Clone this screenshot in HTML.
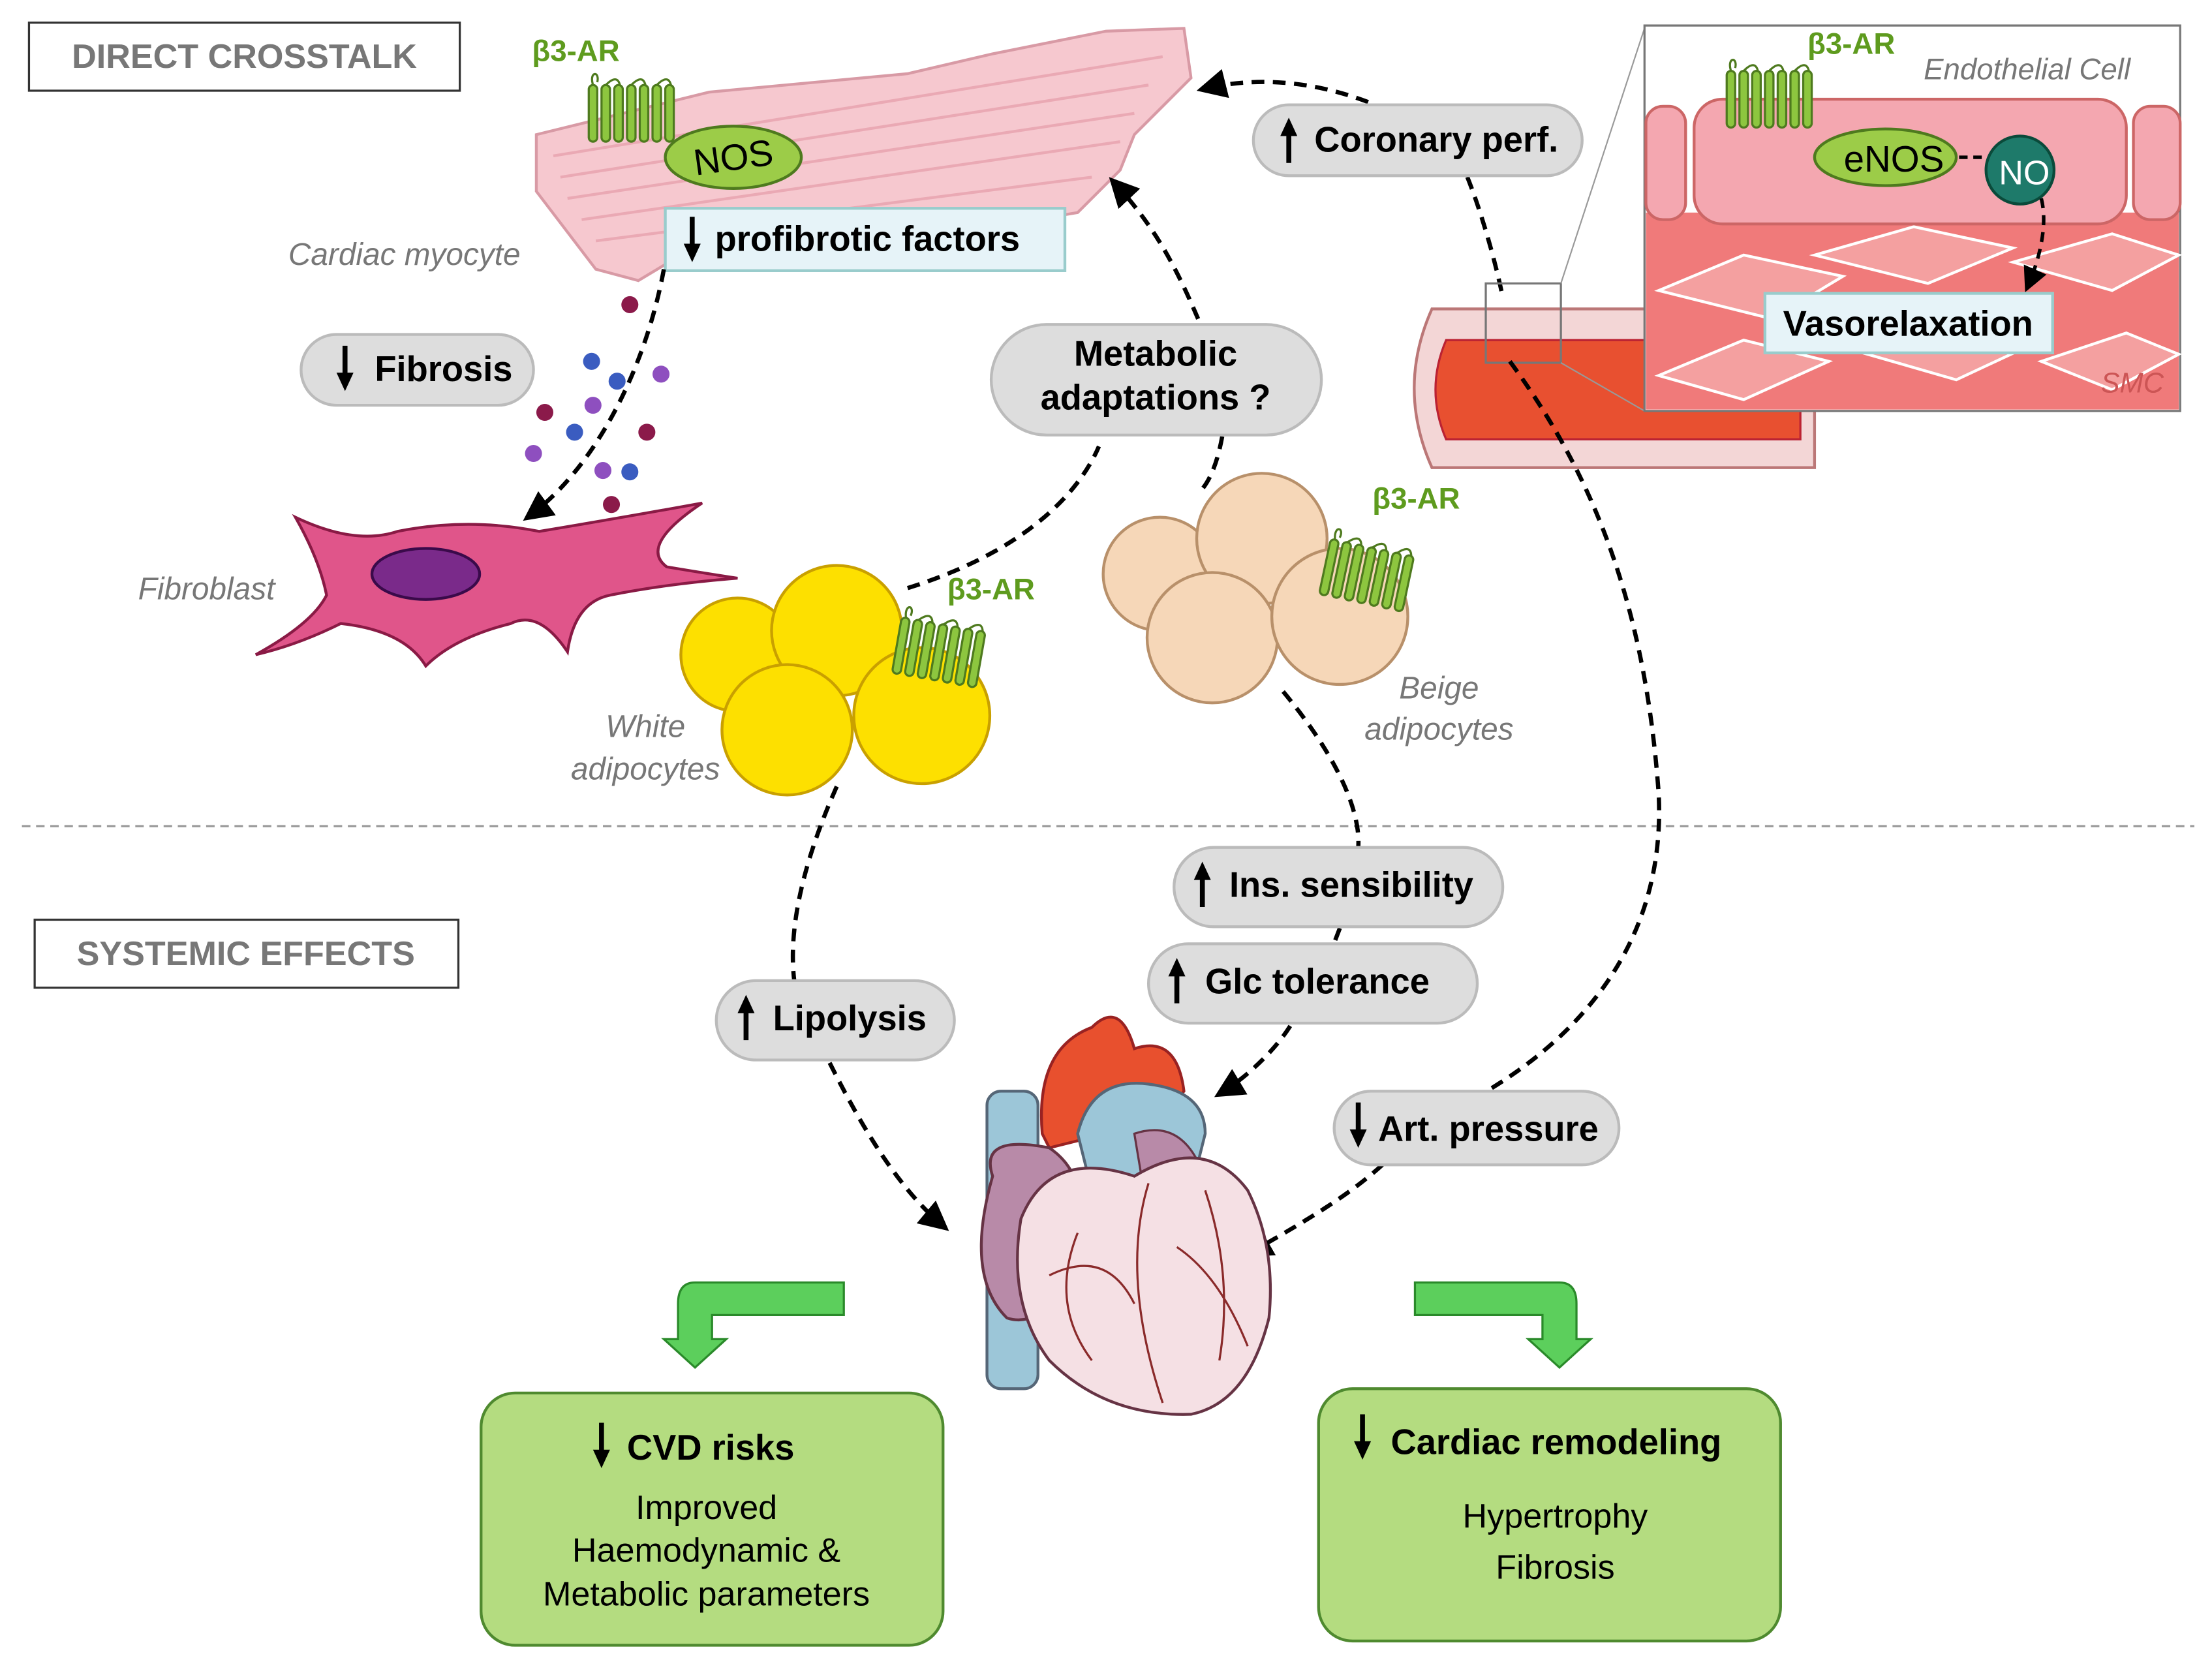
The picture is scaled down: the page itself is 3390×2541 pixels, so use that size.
<!DOCTYPE html>
<html><head><meta charset="utf-8"><style>
html,body{margin:0;padding:0;background:#fff}
svg{display:block}
text{font-family:"Liberation Sans",sans-serif}
</style></head><body>
<svg width="3390" height="2541" viewBox="0 0 1560 1170" xmlns="http://www.w3.org/2000/svg">
<defs>
<marker id="ah" viewBox="0 0 10 10" refX="8" refY="5" markerWidth="7" markerHeight="7" orient="auto"><path d="M0,0 L10,5 L0,10 z" fill="#000"/></marker>
<g id="dn"><path d="M0,0 L0,22" stroke="#000" stroke-width="3.5"/><path d="M-6,19 L6,19 L0,32 z" fill="#000"/></g>
<g id="up"><path d="M0,10 L0,32" stroke="#000" stroke-width="3.5"/><path d="M-6,13 L6,13 L0,0 z" fill="#000"/></g>
<g id="rec" fill="none" stroke="#4e7a1e" stroke-width="1.5">
<rect x="0" y="10" width="6" height="40" rx="3" fill="#8dc63f"/><rect x="9" y="10" width="6" height="40" rx="3" fill="#8dc63f"/><rect x="18" y="10" width="6" height="40" rx="3" fill="#8dc63f"/><rect x="27" y="10" width="6" height="40" rx="3" fill="#8dc63f"/><rect x="36" y="10" width="6" height="40" rx="3" fill="#8dc63f"/><rect x="45" y="10" width="6" height="40" rx="3" fill="#8dc63f"/><rect x="54" y="10" width="6" height="40" rx="3" fill="#8dc63f"/>
<path d="M3,10 C0,0 8,0 6,8 M12,10 Q20,2 22,10 M30,10 Q38,2 40,10 M48,10 Q56,2 58,10"/>
</g>
</defs>
<rect x="20" y="16" width="304" height="48" fill="#fff" stroke="#333" stroke-width="1.5"/>
<text x="172" y="48" font-size="24" font-weight="bold" fill="#777" text-anchor="middle">DIRECT CROSSTALK</text>
<rect x="24" y="649" width="299" height="48" fill="#fff" stroke="#333" stroke-width="1.5"/>
<text x="173" y="681" font-size="24" font-weight="bold" fill="#777" text-anchor="middle">SYSTEMIC EFFECTS</text>
<line x1="15" y1="583" x2="1548" y2="583" stroke="#999" stroke-width="1.5" stroke-dasharray="6,4"/>

<path d="M378,95 L500,65 L640,52 L700,38 L780,22 L835,20 L840,55 L800,95 L790,120 L760,150 L700,160 L560,165 L480,180 L450,198 L420,190 L378,135 Z" fill="#f6c8cf" stroke="#d89aa5" stroke-width="2"/>
<path d="M390,110 L820,40 M395,125 L810,60 M400,140 L800,80 M410,155 L790,100 M420,170 L770,125" stroke="#eaa9b4" stroke-width="2" fill="none"/>
<use href="#rec" x="415" y="50"/>
<text x="375" y="43" font-size="21" font-weight="bold" fill="#5e9b1e">β3-AR</text>
<ellipse cx="517" cy="111" rx="48" ry="22" fill="#9ccc48" stroke="#4e7a1e" stroke-width="2"/>
<text x="517" y="120" font-size="26" text-anchor="middle" transform="rotate(-8 517 111)">NOS</text>
<rect x="469" y="147" width="282" height="44" fill="#e6f3f8" stroke="#9cc" stroke-width="2"/>
<use href="#dn" x="488" y="153"/>
<text x="504" y="177" font-size="25" font-weight="bold">profibrotic factors</text>
<text x="203" y="187" font-size="22" font-style="italic" fill="#777">Cardiac myocyte</text>

<rect x="212" y="236" width="164" height="50" rx="25" fill="#ddd" stroke="#bbb" stroke-width="2"/>
<use href="#dn" x="243" y="244"/>
<text x="264" y="269" font-size="25" font-weight="bold">Fibrosis</text>
<g>
<circle cx="444" cy="215" r="6" fill="#8b1a4a"/><circle cx="417" cy="255" r="6" fill="#3a5cc0"/><circle cx="435" cy="269" r="6" fill="#3a5cc0"/><circle cx="466" cy="264" r="6" fill="#8e4fbf"/><circle cx="384" cy="291" r="6" fill="#8b1a4a"/><circle cx="418" cy="286" r="6" fill="#8e4fbf"/><circle cx="405" cy="305" r="6" fill="#3a5cc0"/><circle cx="456" cy="305" r="6" fill="#8b1a4a"/><circle cx="376" cy="320" r="6" fill="#8e4fbf"/><circle cx="425" cy="332" r="6" fill="#8e4fbf"/><circle cx="444" cy="333" r="6" fill="#3a5cc0"/><circle cx="431" cy="356" r="6" fill="#8b1a4a"/>
</g>
<path d="M468,190 C455,260 420,330 372,365" stroke="#000" stroke-width="3" fill="none" stroke-dasharray="9,6" marker-end="url(#ah)"/>

<path d="M208,365 Q250,385 280,375 Q330,365 380,375 Q440,365 495,355 Q450,385 470,400 Q500,405 520,408 Q470,412 430,420 Q405,425 400,460 Q380,430 360,440 Q320,450 300,470 Q285,445 240,440 Q210,455 180,462 Q220,440 230,420 Q225,395 208,365 Z" fill="#e0558a" stroke="#8a1a45" stroke-width="2"/>
<ellipse cx="300" cy="405" rx="38" ry="18" fill="#7a2a8a" stroke="#3a0a4a" stroke-width="2"/>
<text x="97" y="423" font-size="22" font-style="italic" fill="#777">Fibroblast</text>

<path d="M845,225 C830,190 815,160 785,128" stroke="#000" stroke-width="3" fill="none" stroke-dasharray="9,6" marker-end="url(#ah)"/>
<path d="M640,415 C720,390 760,350 775,315" stroke="#000" stroke-width="3" fill="none" stroke-dasharray="9,6"/>
<path d="M862,308 C858,330 852,340 848,345" stroke="#000" stroke-width="3" fill="none" stroke-dasharray="9,6"/>
<rect x="699" y="229" width="233" height="78" rx="39" fill="#ddd" stroke="#bbb" stroke-width="2"/>
<text x="815" y="258" font-size="25" font-weight="bold" text-anchor="middle">Metabolic</text>
<text x="815" y="289" font-size="25" font-weight="bold" text-anchor="middle">adaptations ?</text>

<path d="M965,72 C920,55 880,55 848,63" stroke="#000" stroke-width="3" fill="none" stroke-dasharray="9,6" marker-end="url(#ah)"/>
<path d="M1035,125 C1045,150 1055,185 1060,210" stroke="#000" stroke-width="3" fill="none" stroke-dasharray="9,6"/>
<rect x="884" y="74" width="232" height="50" rx="25" fill="#ddd" stroke="#bbb" stroke-width="2"/>
<use href="#up" x="909" y="83"/>
<text x="927" y="107" font-size="25" font-weight="bold">Coronary perf.</text>

<path d="M1010,218 L1280,218 L1280,330 L1010,330 Q985,274 1010,218 Z" fill="#f3d6d6" stroke="#b77" stroke-width="2"/>
<path d="M1020,240 L1270,240 L1270,310 L1020,310 Q1005,275 1020,240 Z" fill="#e85030" stroke="#b23" stroke-width="1.5"/>
<rect x="1048" y="200" width="53" height="56" fill="none" stroke="#777" stroke-width="1.5"/>
<line x1="1101" y1="200" x2="1160" y2="20" stroke="#999" stroke-width="1"/>
<line x1="1101" y1="256" x2="1160" y2="290" stroke="#999" stroke-width="1"/>
<path d="M1065,255 C1120,330 1160,420 1170,560 C1175,660 1120,730 1040,775" stroke="#000" stroke-width="3" fill="none" stroke-dasharray="9,6"/>

<rect x="1160" y="18" width="378" height="272" fill="#fff" stroke="#777" stroke-width="1.5"/>
<rect x="1161" y="150" width="376" height="139" fill="#f07a7a"/>
<g stroke="#fff" stroke-width="2" fill="#f4a0a0">
<path d="M1170,205 L1230,180 L1300,195 L1250,225 Z"/><path d="M1280,180 L1350,160 L1420,175 L1360,200 Z"/><path d="M1420,185 L1490,165 L1537,180 L1490,205 Z"/><path d="M1170,265 L1230,240 L1290,255 L1230,282 Z"/><path d="M1300,245 L1370,225 L1440,240 L1380,268 Z"/><path d="M1440,255 L1500,235 L1537,250 L1490,275 Z"/>
</g>
<rect x="1195" y="70" width="305" height="88" rx="20" fill="#f4a7b0" stroke="#c66" stroke-width="2"/>
<rect x="1161" y="75" width="28" height="80" rx="12" fill="#f4a7b0" stroke="#c66" stroke-width="2"/>
<rect x="1505" y="75" width="33" height="80" rx="12" fill="#f4a7b0" stroke="#c66" stroke-width="2"/>
<use href="#rec" x="1218" y="40"/>
<text x="1275" y="38" font-size="21" font-weight="bold" fill="#5e9b1e">β3-AR</text>
<text x="1357" y="56" font-size="21" font-style="italic" fill="#777">Endothelial Cell</text>
<ellipse cx="1330" cy="111" rx="50" ry="20" fill="#9ccc48" stroke="#4e7a1e" stroke-width="2"/>
<text x="1336" y="121" font-size="26" text-anchor="middle">eNOS</text>
<line x1="1382" y1="111" x2="1400" y2="111" stroke="#000" stroke-width="2.5" stroke-dasharray="6,4"/>
<circle cx="1425" cy="120" r="24" fill="#1e7a6a" stroke="#0a4a3a" stroke-width="2"/>
<text x="1428" y="130" font-size="24" fill="#fff" text-anchor="middle">NO</text>
<path d="M1440,140 C1445,160 1438,185 1430,203" stroke="#000" stroke-width="2.5" fill="none" stroke-dasharray="7,5" marker-end="url(#ah)"/>
<rect x="1245" y="207" width="203" height="42" fill="#e6f3f8" stroke="#9cc" stroke-width="2"/>
<text x="1346" y="237" font-size="25" font-weight="bold" text-anchor="middle">Vasorelaxation</text>
<text x="1482" y="277" font-size="20" font-style="italic" fill="#c55">SMC</text>

<g stroke="#c9a000" stroke-width="2" fill="#fde000">
<circle cx="520" cy="462" r="40"/><circle cx="590" cy="445" r="46"/><circle cx="555" cy="515" r="46"/><circle cx="650" cy="505" r="48"/>
</g>
<use href="#rec" x="632" y="430" transform="rotate(10 660 460)"/>
<text x="668" y="423" font-size="21" font-weight="bold" fill="#5e9b1e">β3-AR</text>
<text x="455" y="520" font-size="22" font-style="italic" fill="#777" text-anchor="middle">White</text>
<text x="455" y="550" font-size="22" font-style="italic" fill="#777" text-anchor="middle">adipocytes</text>

<g stroke="#b8906a" stroke-width="2" fill="#f6d7b8">
<circle cx="818" cy="405" r="40"/><circle cx="890" cy="380" r="46"/><circle cx="855" cy="450" r="46"/><circle cx="945" cy="435" r="48"/>
</g>
<use href="#rec" x="935" y="375" transform="rotate(12 960 400)"/>
<text x="968" y="359" font-size="21" font-weight="bold" fill="#5e9b1e">β3-AR</text>
<text x="1015" y="493" font-size="22" font-style="italic" fill="#777" text-anchor="middle">Beige</text>
<text x="1015" y="522" font-size="22" font-style="italic" fill="#777" text-anchor="middle">adipocytes</text>

<path d="M905,488 C940,530 960,570 958,598" stroke="#000" stroke-width="3" fill="none" stroke-dasharray="9,6"/>
<path d="M945,655 L940,668" stroke="#000" stroke-width="3" fill="none" stroke-dasharray="9,6"/>
<path d="M910,724 C900,740 880,760 860,772" stroke="#000" stroke-width="3" fill="none" stroke-dasharray="9,6" marker-end="url(#ah)"/>
<path d="M590,555 C570,600 555,650 560,692" stroke="#000" stroke-width="3" fill="none" stroke-dasharray="9,6"/>
<path d="M585,750 C610,800 635,840 666,866" stroke="#000" stroke-width="3" fill="none" stroke-dasharray="9,6" marker-end="url(#ah)"/>
<path d="M975,822 C950,845 915,865 880,885" stroke="#000" stroke-width="3" fill="none" stroke-dasharray="9,6" marker-end="url(#ah)"/>

<rect x="828" y="598" width="232" height="56" rx="28" fill="#ddd" stroke="#bbb" stroke-width="2"/>
<use href="#up" x="848" y="608"/>
<text x="867" y="633" font-size="25" font-weight="bold">Ins. sensibility</text>
<rect x="810" y="666" width="232" height="56" rx="28" fill="#ddd" stroke="#bbb" stroke-width="2"/>
<use href="#up" x="830" y="676"/>
<text x="850" y="701" font-size="25" font-weight="bold">Glc tolerance</text>
<rect x="505" y="692" width="168" height="56" rx="28" fill="#ddd" stroke="#bbb" stroke-width="2"/>
<use href="#up" x="526" y="702"/>
<text x="545" y="727" font-size="25" font-weight="bold">Lipolysis</text>
<rect x="941" y="770" width="201" height="52" rx="26" fill="#ddd" stroke="#bbb" stroke-width="2"/>
<use href="#dn" x="958" y="778"/>
<text x="972" y="805" font-size="25" font-weight="bold">Art. pressure</text>

<rect x="696" y="770" width="36" height="210" rx="10" fill="#9cc6d8" stroke="#567" stroke-width="2"/>
<path d="M735,800 Q730,740 770,725 Q790,705 800,740 Q830,730 835,770 L820,790 L740,810 Z" fill="#e8502e" stroke="#922" stroke-width="2"/>
<path d="M760,800 Q770,760 810,765 Q850,770 850,800 L840,840 L770,840 Z" fill="#9cc6d8" stroke="#567" stroke-width="2"/>
<path d="M800,800 Q830,790 845,820 L830,845 L805,830 Z" fill="#b88aa8" stroke="#634" stroke-width="1.5"/>
<path d="M700,830 Q690,800 740,810 Q770,830 760,880 Q740,940 710,930 Q680,900 700,830 Z" fill="#b88aa8" stroke="#634" stroke-width="2"/>
<path d="M720,860 Q740,810 800,830 Q850,800 880,840 Q900,880 895,930 Q880,990 840,998 Q780,1000 740,960 Q710,920 720,860 Z" fill="#f5e0e4" stroke="#634" stroke-width="2"/>
<path d="M810,835 Q790,900 820,990 M850,840 Q870,900 860,960 M760,870 Q740,920 770,960 M740,900 Q780,880 800,920 M830,880 Q860,900 880,950" stroke="#8a2a2a" stroke-width="1.5" fill="none"/>

<path d="M595,905 L490,905 Q478,905 478,920 L478,945 L468,945 L490,965 L512,945 L502,945 L502,928 L595,928 Z" fill="#5ccf5c" stroke="#2a8a2a" stroke-width="1.5"/>
<path d="M998,905 L1100,905 Q1112,905 1112,920 L1112,945 L1122,945 L1100,965 L1078,945 L1088,945 L1088,928 L998,928 Z" fill="#5ccf5c" stroke="#2a8a2a" stroke-width="1.5"/>

<rect x="339" y="983" width="326" height="178" rx="24" fill="#b4dc80" stroke="#4f8a2f" stroke-width="2"/>
<use href="#dn" x="424" y="1004"/>
<text x="442" y="1030" font-size="25" font-weight="bold">CVD risks</text>
<text x="498" y="1072" font-size="24" text-anchor="middle">Improved</text>
<text x="498" y="1102" font-size="24" text-anchor="middle">Haemodynamic &amp;</text>
<text x="498" y="1133" font-size="24" text-anchor="middle">Metabolic parameters</text>
<rect x="930" y="980" width="326" height="178" rx="24" fill="#b4dc80" stroke="#4f8a2f" stroke-width="2"/>
<use href="#dn" x="961" y="998"/>
<text x="981" y="1026" font-size="25" font-weight="bold">Cardiac remodeling</text>
<text x="1097" y="1078" font-size="24" text-anchor="middle">Hypertrophy</text>
<text x="1097" y="1114" font-size="24" text-anchor="middle">Fibrosis</text>
</svg>
</body></html>
